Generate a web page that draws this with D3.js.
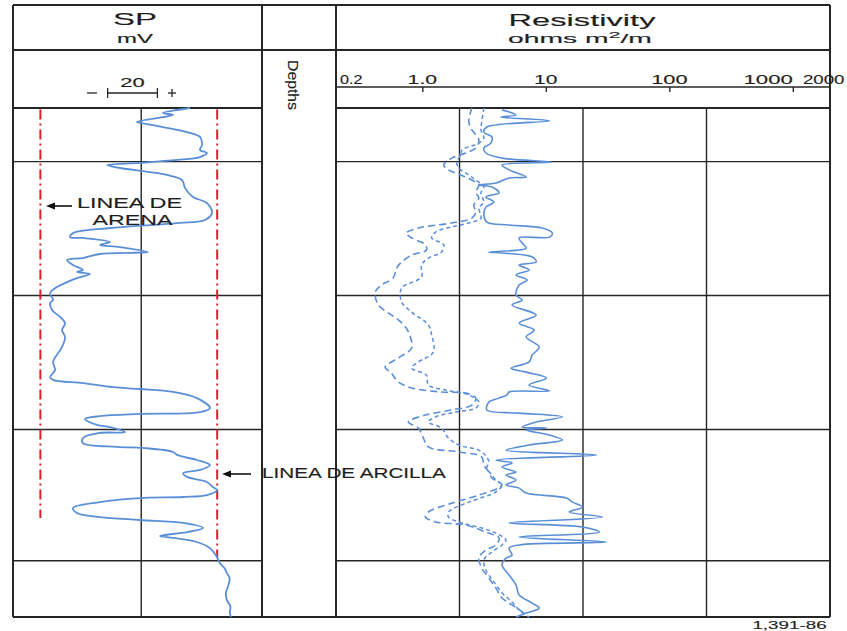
<!DOCTYPE html>
<html>
<head>
<meta charset="utf-8">
<script src="https://cdn.jsdelivr.net/npm/d3@7"></script>
<style>
  body { margin: 0; background: #fff; }
  svg { display: block; }
  text { font-family: "Liberation Sans", Arial, sans-serif; fill: #1e1e1e;
         stroke: #1e1e1e; stroke-width: 0.12; }
</style>
</head>
<body>
<svg id="log" width="847" height="631"></svg>
<script>
// ---- log data ----------------------------------------------------------
// depth interval of the log (ft) and the depth grid lines
const depthRange = [4980, 5170];
const depthGrid = [5000, 5050, 5100, 5149];

// SP track scale (mV), grid line, 20 mV scale bar
const spDomain = [-80, 20];
const spGrid = [-28.5];
const spScaleBar = [-42, -22];

// sand (clean) and shale base lines, mV with depth extent
const sandLine = { mv: -69, top: 4980.6, base: 5133 };
const shaleLine = { mv: 2, top: 4980.6, base: 5148 };

// resistivity track: log scale, grid lines, labelled ticks
const resDomain = [0.2, 2000];
const resGrid = [2, 20, 200];
const resTicks = [1, 10, 100, 1000];
const resTickLabels = ["0.2", "1.0", "10", "100", "1000", "2000"];

// SP curve: [depth ft, mV]
const spCurve = [
  [4980.0,-8.9],[4981.9,-19.8],[4982.6,-15.7],[4985.2,-30.2],[4986.0,-26.2],[4987.1,-19.8],
  [4989.0,-10.1],[4990.8,-4.9],[4993.8,-4.1],[4995.7,-4.9],[4996.8,-2.1],[4998.3,-4.9],
  [4999.4,-14.1],[5000.5,-29.0],[5001.3,-42.2],[5002.4,-37.0],[5003.9,-25.0],[5005.0,-18.2],
  [5006.9,-12.1],[5009.9,-10.9],[5013.2,-7.7],[5015.5,-2.1],[5019.2,-0.1],[5021.8,-2.9],
  [5022.9,-12.9],[5023.7,-25.0],[5024.8,-41.0],[5026.7,-55.9],[5028.2,-57.1],[5028.5,-51.9],
  [5030.0,-41.0],[5031.1,-45.1],[5031.9,-37.0],[5033.8,-25.8],[5034.1,-34.2],[5034.5,-45.1],
  [5036.0,-51.9],[5036.7,-58.3],[5038.6,-55.9],[5040.5,-51.9],[5041.2,-54.3],[5042.0,-49.1],
  [5043.5,-54.3],[5045.0,-58.3],[5046.8,-62.3],[5049.1,-65.1],[5051.7,-63.9],[5052.8,-65.1],
  [5055.4,-64.3],[5058.0,-61.1],[5060.3,-59.1],[5062.9,-60.3],[5065.5,-59.1],[5069.2,-60.3],
  [5071.5,-61.9],[5074.8,-63.9],[5077.8,-63.1],[5080.4,-65.1],[5081.5,-63.9],[5082.7,-51.9],
  [5084.2,-39.8],[5084.9,-29.0],[5086.0,-15.7],[5088.3,-6.1],[5092.0,-0.9],[5093.5,-4.9],
  [5094.2,-29.0],[5095.0,-45.1],[5096.1,-51.1],[5098.3,-46.3],[5099.1,-41.0],[5101.0,-35.0],
  [5101.3,-45.1],[5103.2,-51.9],[5105.1,-51.9],[5106.5,-38.2],[5106.9,-27.8],[5108.4,-15.7],
  [5109.5,-14.1],[5111.4,-6.1],[5113.3,-0.9],[5115.1,-4.9],[5116.3,-11.7],[5117.7,-10.1],
  [5119.6,-2.1],[5121.5,0.3],[5122.6,1.9],[5124.5,-2.1],[5125.2,-11.7],[5125.6,-29.0],
  [5127.1,-45.1],[5129.3,-55.9],[5131.2,-54.3],[5132.7,-45.1],[5133.8,-29.0],[5134.9,-11.7],
  [5136.8,-3.7],[5138.3,-10.1],[5139.8,-21.0],[5140.5,-15.7],[5142.0,-6.1],[5144.3,-0.9],
  [5147.6,1.9],[5149.9,3.1],[5151.7,4.9],[5153.6,5.9],[5155.5,7.0],[5158.8,6.3],
  [5161.0,5.5],[5163.7,5.9],[5166.0,7.3],[5168.5,7.1],[5170.0,7.5]
];

// shallow resistivity (solid): [depth ft, ohm-m]
const resShallow = [
  [4980.7,4.42],[4982.6,5.74],[4983.4,4.34],[4984.8,10.7],[4987.1,3.33],[4989.0,3.15],
  [4990.8,3.66],[4993.1,3.59],[4994.9,3.15],[4996.8,3.27],[4998.7,4.42],[5000.2,11.1],
  [5001.3,4.42],[5003.1,5.04],[5005.8,6.93],[5006.1,5.04],[5008.0,3.95],[5008.7,2.87],
  [5009.5,3.66],[5011.7,4.18],[5013.2,3.27],[5015.1,3.80],[5017.0,3.27],[5019.9,3.15],
  [5022.6,3.33],[5023.7,5.04],[5024.8,9.35],[5026.7,11.3],[5028.2,10.7],[5028.5,6.08],
  [5030.4,6.43],[5032.3,6.93],[5033.8,3.46],[5034.1,4.42],[5035.6,7.76],[5037.5,8.36],
  [5038.6,6.08],[5040.5,7.33],[5042.3,5.74],[5044.2,7.06],[5046.1,6.08],[5049.8,5.74],
  [5051.7,6.43],[5053.5,5.33],[5057.3,8.36],[5060.3,6.08],[5062.9,8.05],[5065.5,6.93],
  [5069.2,8.85],[5072.2,7.76],[5074.8,7.33],[5077.1,5.23],[5078.6,6.93],[5080.8,10.1],
  [5083.4,7.33],[5085.6,10.7],[5086.0,5.04],[5087.1,4.85],[5088.3,4.18],[5089.8,3.46],
  [5092.7,3.33],[5093.9,6.08],[5095.3,13.6],[5097.2,8.36],[5099.1,6.43],[5099.5,10.1],
  [5100.2,6.93],[5102.1,10.7],[5103.9,13.6],[5105.8,7.33],[5107.7,4.76],[5109.5,25.8],
  [5111.4,3.95],[5112.5,5.33],[5114.0,4.42],[5115.9,5.74],[5117.0,4.76],[5118.9,5.74],
  [5120.7,4.76],[5121.9,6.08],[5123.7,6.93],[5125.6,14.7],[5127.1,16.4],[5129.0,19.8],
  [5130.8,15.5],[5132.7,28.8],[5134.9,5.04],[5136.4,19.8],[5138.3,27.2],[5140.1,6.08],
  [5142.0,31.1],[5143.1,6.08],[5144.3,5.04],[5146.9,5.33],[5148.0,4.76],[5150.6,4.42],
  [5154.3,5.04],[5158.1,5.74],[5161.8,6.08],[5164.8,7.76],[5166.7,8.85],[5168.5,6.93],
  [5170.0,5.74]
];

// deep resistivity (long dashes): [depth ft, ohm-m]
const resDeep = [
  [4980.0,2.52],[4985.2,2.38],[4988.2,2.52],[4991.9,2.87],[4994.9,2.71],[4996.8,2.25],
  [4998.7,1.73],[5001.3,1.49],[5003.1,1.63],[5005.0,2.05],[5006.9,2.52],[5008.7,2.87],
  [5011.4,2.71],[5013.6,2.87],[5016.2,2.61],[5018.8,2.71],[5021.1,2.52],[5022.9,1.73],
  [5024.8,0.93],[5026.7,0.74],[5028.5,0.82],[5031.1,1.06],[5033.0,1.08],[5034.9,0.82],
  [5037.5,0.68],[5039.7,0.62],[5043.5,0.58],[5046.1,0.465],[5048.7,0.416],[5053.5,0.44],
  [5056.5,0.53],[5059.1,0.64],[5062.1,0.74],[5065.5,0.80],[5069.6,0.82],[5073.3,0.64],
  [5076.7,0.50],[5078.9,0.56],[5082.3,0.64],[5084.5,0.82],[5086.0,1.43],[5086.4,2.25],
  [5088.3,2.71],[5090.9,2.52],[5092.7,1.73],[5094.6,1.06],[5097.2,0.77],[5099.5,0.93],
  [5103.2,1.02],[5106.5,1.12],[5108.4,1.97],[5110.3,3.03],[5113.3,3.15],[5115.9,3.46],
  [5118.1,3.66],[5120.7,4.42],[5124.5,2.87],[5127.5,1.73],[5130.8,1.12],[5132.7,1.06],
  [5134.5,1.28],[5135.7,2.25],[5138.3,3.27],[5140.5,4.18],[5143.1,3.95],[5145.0,3.27],
  [5148.0,2.87],[5151.7,3.03],[5155.5,3.46],[5159.2,3.95],[5162.9,4.42],[5165.5,5.33],
  [5168.1,6.43],[5170.0,6.93]
];

// medium resistivity (short dashes): [depth ft, ohm-m]
const resMedium = [
  [4980.0,3.15],[4985.2,3.03],[4988.2,2.98],[4991.2,3.15],[4993.1,2.87],[4995.7,2.09],
  [4997.5,2.05],[5000.2,1.90],[5002.4,1.97],[5005.0,2.38],[5006.9,2.71],[5009.5,3.15],
  [5011.7,2.98],[5015.1,3.15],[5017.3,2.87],[5021.1,2.98],[5022.9,2.38],[5024.4,1.73],
  [5026.3,1.28],[5028.5,1.19],[5031.1,1.49],[5033.8,1.43],[5036.0,1.12],[5038.6,0.985],
  [5043.1,0.985],[5047.2,0.68],[5052.4,0.68],[5056.2,0.82],[5061.0,1.12],[5064.7,1.19],
  [5071.1,1.23],[5074.8,0.93],[5077.1,0.82],[5079.7,1.08],[5083.4,1.12],[5085.3,1.55],
  [5087.1,2.38],[5089.8,2.87],[5092.0,2.71],[5093.5,1.86],[5095.3,1.28],[5097.2,1.12],
  [5099.5,1.43],[5103.2,1.63],[5105.8,1.97],[5107.7,2.87],[5109.9,3.27],[5112.1,3.46],
  [5114.4,3.33],[5117.0,3.66],[5118.9,3.95],[5120.7,4.42],[5123.3,3.95],[5127.1,2.38],
  [5130.8,1.63],[5132.7,1.63],[5134.9,2.09],[5136.8,3.03],[5138.7,3.95],[5141.3,4.76],
  [5143.1,4.42],[5145.7,3.66],[5148.7,3.15],[5153.2,3.33],[5156.9,3.80],[5161.0,4.42],
  [5164.4,5.33],[5167.4,6.08],[5170.0,7.33]
];

// ---- layout ------------------------------------------------------------
const frame = { left: 13, right: 830, top: 5, head1: 50, scaleY: 87, head2: 108,
                bottom: 617, spRight: 262, resLeft: 336 };
const ink = "#262626";
const curveBlue = "#5a8fd8";
const baseRed = "#d8202c";

const svg = d3.select("#log");

const y = d3.scaleLinear().domain(depthRange).range([frame.head2, frame.bottom]);
const spX = d3.scaleLinear().domain(spDomain).range([frame.left, frame.spRight]);
const resX = d3.scaleLog().domain(resDomain).range([frame.resLeft, frame.right]);

// stretched label helper: natural text scaled horizontally to a given width
function label(g, str, x, yPos, size, width, anchor = "middle") {
  const t = g.append("text")
    .attr("font-size", size)
    .attr("text-anchor", anchor)
    .text(str);
  const w = t.node().getBBox().width;
  t.attr("transform", `translate(${x},${yPos}) scale(${width / w},1)`);
  return t;
}

// ---- grid --------------------------------------------------------------
const grid = svg.append("g").attr("stroke", ink).attr("stroke-width", 1.4).attr("fill", "none");

// depth lines in the SP and resistivity tracks
depthGrid.forEach(d => {
  grid.append("line").attr("x1", frame.left).attr("x2", frame.spRight)
    .attr("y1", y(d)).attr("y2", y(d));
  grid.append("line").attr("x1", frame.resLeft).attr("x2", frame.right)
    .attr("y1", y(d)).attr("y2", y(d));
});
spGrid.forEach(v => {
  grid.append("line").attr("x1", spX(v)).attr("x2", spX(v))
    .attr("y1", frame.head2).attr("y2", frame.bottom);
});
resGrid.forEach(v => {
  grid.append("line").attr("x1", resX(v)).attr("x2", resX(v))
    .attr("y1", frame.head2).attr("y2", frame.bottom);
});

// header rules
grid.append("line").attr("x1", frame.left).attr("x2", frame.right)
  .attr("y1", frame.head1).attr("y2", frame.head1).attr("stroke-width", 1.8);
grid.append("line").attr("x1", frame.left).attr("x2", frame.spRight)
  .attr("y1", frame.head2).attr("y2", frame.head2).attr("stroke-width", 1.8);
grid.append("line").attr("x1", frame.resLeft).attr("x2", frame.right)
  .attr("y1", frame.head2).attr("y2", frame.head2).attr("stroke-width", 1.8);
grid.append("line").attr("x1", frame.resLeft).attr("x2", frame.right)
  .attr("y1", frame.scaleY).attr("y2", frame.scaleY).attr("stroke-width", 1.5);

// track borders
[frame.left, frame.spRight, frame.resLeft, frame.right].forEach(x => {
  grid.append("line").attr("x1", x).attr("x2", x)
    .attr("y1", frame.top).attr("y2", frame.bottom).attr("stroke-width", 2);
});
grid.append("line").attr("x1", frame.left).attr("x2", frame.right)
  .attr("y1", frame.top).attr("y2", frame.top).attr("stroke-width", 2);
grid.append("line").attr("x1", frame.left).attr("x2", frame.right)
  .attr("y1", frame.bottom).attr("y2", frame.bottom).attr("stroke-width", 2);

// resistivity tick marks on the scale line
const resAxis = svg.append("g")
  .attr("transform", `translate(0,${frame.scaleY})`)
  .call(d3.axisBottom(resX).tickValues(resTicks).tickSize(5).tickFormat(""));
resAxis.select(".domain").remove();
resAxis.selectAll(".tick line").attr("stroke", ink).attr("stroke-width", 1.4);

// ---- headings ----------------------------------------------------------
const head = svg.append("g");
label(head, "SP", 135, 25, 16, 44);
label(head, "mV", 135, 43, 12, 36);
label(head, "Resistivity", 582, 26, 16, 147);
const unit = head.append("text").attr("font-size", 12).attr("text-anchor", "middle");
unit.append("tspan").text("ohms m");
unit.append("tspan").text("2").attr("font-size", 9).attr("dy", -5);
unit.append("tspan").text("/m").attr("dy", 5);
{
  const w = unit.node().getBBox().width;
  unit.attr("transform", `translate(580,43) scale(${144 / w},1)`);
}

// depth column title, rotated
{
  const t = head.append("text").attr("font-size", 14).attr("text-anchor", "middle")
    .attr("dy", "0.35em").text("Depths");
  const w = t.node().getBBox().width;
  t.attr("transform", `translate(293,85) rotate(90) scale(${50 / w},1)`);
}

// SP 20 mV scale bar
const bar = svg.append("g").attr("stroke", ink).attr("stroke-width", 1.3);
const barY = 93;
bar.append("line").attr("x1", spX(spScaleBar[0])).attr("x2", spX(spScaleBar[1]))
  .attr("y1", barY).attr("y2", barY);
spScaleBar.forEach(v => bar.append("line").attr("x1", spX(v)).attr("x2", spX(v))
  .attr("y1", barY - 5).attr("y2", barY + 5));
bar.append("line").attr("x1", 87).attr("x2", 97).attr("y1", barY).attr("y2", barY);
bar.append("line").attr("x1", 168).attr("x2", 176).attr("y1", barY).attr("y2", barY);
bar.append("line").attr("x1", 172).attr("x2", 172).attr("y1", barY - 4).attr("y2", barY + 4);
label(head, String(spScaleBar[1] - spScaleBar[0]), d3.mean(spScaleBar.map(spX)), 87, 12, 25);

// resistivity scale labels
const lab = svg.append("g");
const labelVals = [0.2, 1, 10, 100, 1000, 2000];
const labelWidth = [23, 30, 24, 37, 50, 42];
resTickLabels.forEach((s, i) => {
  const v = labelVals[i];
  let x = resX(v), anchor = "middle";
  if (i === 0) { x += 4; anchor = "start"; }
  if (i === 4) { anchor = "end"; }
  if (i === 5) { x -= 27; anchor = "start"; }
  label(lab, s, x, 84, 12, labelWidth[i], anchor);
});

// ---- base lines (sand / shale) ----------------------------------------
const base = svg.append("g").attr("stroke", baseRed).attr("stroke-width", 2)
  .attr("stroke-dasharray", "10,4,2,4");
[sandLine, shaleLine].forEach(b => {
  base.append("line").attr("x1", spX(b.mv)).attr("x2", spX(b.mv))
    .attr("y1", y(b.top)).attr("y2", y(b.base));
});

// ---- curves ------------------------------------------------------------
const curves = svg.append("g").attr("fill", "none").attr("stroke", curveBlue)
  .attr("stroke-linejoin", "round");

const spLine = d3.line().x(d => spX(d[1])).y(d => y(d[0]))
  .curve(d3.curveCatmullRom.alpha(0.5));
const resLine = d3.line().x(d => resX(d[1])).y(d => y(d[0]))
  .curve(d3.curveCatmullRom.alpha(0.5));

curves.append("path").datum(spCurve).attr("d", spLine).attr("stroke-width", 1.8);
curves.append("path").datum(resDeep).attr("d", resLine).attr("stroke-width", 1.6)
  .attr("stroke-dasharray", "7,4");
curves.append("path").datum(resMedium).attr("d", resLine).attr("stroke-width", 1.5)
  .attr("stroke-dasharray", "4,3");
curves.append("path").datum(resShallow).attr("d", resLine).attr("stroke-width", 1.6);

// ---- annotations -------------------------------------------------------
const notes = svg.append("g");
label(notes, "LINEA DE", 129.5, 208, 14, 105);
label(notes, "ARENA", 132.5, 225, 14, 81);
label(notes, "LINEA DE ARCILLA", 262, 478, 14, 185, "start");

function arrow(g, xTail, xTip, yPos) {
  g.append("line").attr("x1", xTail).attr("x2", xTip + 6)
    .attr("y1", yPos).attr("y2", yPos).attr("stroke", "#111").attr("stroke-width", 1.6);
  g.append("path")
    .attr("d", d3.line()([[xTip, yPos], [xTip + 9, yPos - 3.5], [xTip + 9, yPos + 3.5]]) + "Z")
    .attr("fill", "#111");
}
arrow(notes, 72, 46, 206);
arrow(notes, 251, 222, 474);

label(notes, "1,391-86", 789.5, 629, 10, 75);
</script>
</body>
</html>
